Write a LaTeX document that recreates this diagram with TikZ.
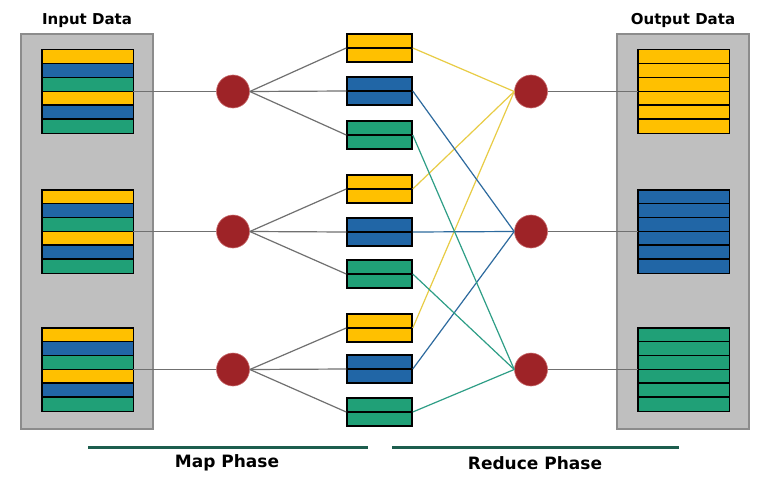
\documentclass[tikz,border=0pt]{standalone}
\usepackage{fontspec}
\setmainfont{DejaVu Sans}
\usetikzlibrary{calc}
\definecolor{yel}{HTML}{FFC000}
\definecolor{blu}{HTML}{2166A6}
\definecolor{grn}{HTML}{20A077}
\definecolor{redc}{HTML}{9E2327}
\definecolor{redb}{HTML}{C86A6C}
\definecolor{panelgray}{HTML}{BFBFBF}
\definecolor{panelborder}{HTML}{8C8C8C}
\definecolor{mapline}{HTML}{707070}
\definecolor{yline}{HTML}{E8CC45}
\definecolor{bline}{HTML}{2D6A9E}
\definecolor{gline}{HTML}{2E9E86}
\definecolor{phase}{HTML}{1D5E4E}
\newcommand\stripestack[2]{%
  \foreach \c [count=\i from 0] in {#2} {
    \fill[\c] ($(#1.north west)+(0,\i*83/6)$) rectangle ++(91,83/6);
  }
  \foreach \i in {1,...,5} \draw[stripeline] ($(#1.north west)+(0,\i*83/6)$) -- ++(91,0);
  \draw[stripeline] (#1.north west) rectangle (#1.south east);
}
\begin{document}
\begin{tikzpicture}[x=1pt,y=-1pt,
  panel/.style={draw=panelborder, fill=panelgray, line width=1.5pt, minimum width=132pt, minimum height=395pt, inner sep=0pt},
  stackbox/.style={minimum width=91pt, minimum height=83pt, inner sep=0pt},
  stripeline/.style={draw=black, line width=1.4pt},
  proc/.style={circle, fill=redc, draw=redb, line width=0.6pt, minimum size=33pt, inner sep=0pt},
  kv/.style={draw=black, line width=1.5pt, minimum width=65pt, minimum height=28pt, inner sep=0pt},
  maplink/.style={draw=mapline, line width=1.2pt},
  title/.style={font=\bfseries\fontsize{15}{18}\selectfont, inner sep=0pt},
  phaselabel/.style={font=\bfseries\fontsize{17}{20}\selectfont, inner sep=0pt},
  phaseline/.style={draw=phase, line width=3pt}
]
\useasboundingbox (0,0) rectangle (783,484);
\fill[white] (0,0) rectangle (783,484);

% panels
\node[panel] (pin) at (87,231.5) {};
\node[panel] (pout) at (683,231.5) {};
\node[title] (tin) at (87,20.5) {Input Data};
\node[title] (tout) at (683,20.5) {Output Data};

% input stacks
\node[stackbox] (in1) at (87.5,91.5) {};
\node[stackbox] (in2) at (87.5,231.5) {};
\node[stackbox] (in3) at (87.5,369.5) {};
\stripestack{in1}{yel,blu,grn,yel,blu,grn}
\stripestack{in2}{yel,blu,grn,yel,blu,grn}
\stripestack{in3}{yel,blu,grn,yel,blu,grn}

% output stacks
\node[stackbox] (out1) at (683.5,91.5) {};
\node[stackbox] (out2) at (683.5,231.5) {};
\node[stackbox] (out3) at (683.5,369.5) {};
\stripestack{out1}{yel,yel,yel,yel,yel,yel}
\stripestack{out2}{blu,blu,blu,blu,blu,blu}
\stripestack{out3}{grn,grn,grn,grn,grn,grn}

% map and reduce processes
\node[proc] (m1) at (233,91.5) {};
\node[proc] (m2) at (233,231.5) {};
\node[proc] (m3) at (233,369.5) {};
\node[proc] (r1) at (531,91.5) {};
\node[proc] (r2) at (531,231.5) {};
\node[proc] (r3) at (531,369.5) {};

% intermediate boxes
\foreach \n/\y/\c in {b1/48/yel, b2/91/blu, b3/135/grn, b4/189/yel, b5/232/blu, b6/274/grn, b7/328/yel, b8/369/blu, b9/412/grn} {
  \node[kv, fill=\c] (\n) at (379.5,\y) {};
  \draw[black, line width=1.3pt] (\n.west) -- (\n.east);
}

% input -> map
\draw[maplink] (in1.east) -- (m1.west);
\draw[maplink] (in2.east) -- (m2.west);
\draw[maplink] (in3.east) -- (m3.west);

% map -> boxes
\draw[maplink] (m1.east) -- (b1.west);
\draw[maplink] (m1.east) -- (b2.west);
\draw[maplink] (m1.east) -- (b3.west);
\draw[maplink] (m2.east) -- (b4.west);
\draw[maplink] (m2.east) -- (b5.west);
\draw[maplink] (m2.east) -- (b6.west);
\draw[maplink] (m3.east) -- (b7.west);
\draw[maplink] (m3.east) -- (b8.west);
\draw[maplink] (m3.east) -- (b9.west);

% boxes -> reduce
\draw[yline, line width=1.2pt] (b1.east) -- (r1.west);
\draw[yline, line width=1.2pt] (b4.east) -- (r1.west);
\draw[yline, line width=1.2pt] (b7.east) -- (r1.west);
\draw[bline, line width=1.2pt] (b2.east) -- (r2.west);
\draw[bline, line width=1.2pt] (b5.east) -- (r2.west);
\draw[bline, line width=1.2pt] (b8.east) -- (r2.west);
\draw[gline, line width=1.2pt] (b3.east) -- (r3.west);
\draw[gline, line width=1.2pt] (b6.east) -- (r3.west);
\draw[gline, line width=1.2pt] (b9.east) -- (r3.west);

% reduce -> output
\draw[maplink] (r1.east) -- (out1.west);
\draw[maplink] (r2.east) -- (out2.west);
\draw[maplink] (r3.east) -- (out3.west);

% phases
\coordinate (ma) at (88,447);
\coordinate (mb) at (368,447);
\coordinate (ra) at (392,447);
\coordinate (rb) at (679,447);
\draw[phaseline] (ma) -- (mb);
\draw[phaseline] (ra) -- (rb);
\node[phaselabel] (lmap) at (227,463) {Map Phase};
\node[phaselabel] (lred) at (535,463) {Reduce Phase};
\end{tikzpicture}
\end{document}
